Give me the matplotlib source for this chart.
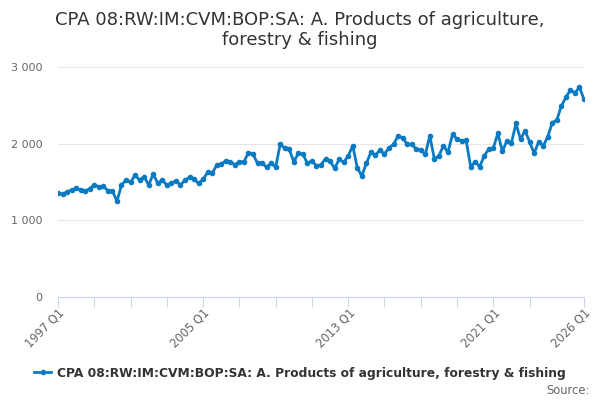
import matplotlib
matplotlib.use('Agg')
import matplotlib.pyplot as plt
from matplotlib.lines import Line2D

# quarterly values 1997 Q1 .. 2026 Q1
values = [1360, 1339, 1373, 1395, 1417, 1395, 1382, 1412, 1464, 1438,
          1447, 1386, 1386, 1248, 1460, 1525, 1495, 1590, 1525, 1568,
          1460, 1604, 1482, 1525, 1460, 1482, 1517, 1460, 1525, 1560,
          1534, 1482, 1534, 1626, 1612, 1721, 1734, 1777, 1764, 1725,
          1764, 1764, 1882, 1864, 1743, 1751, 1691, 1751, 1691, 1995,
          1939, 1925, 1764, 1873, 1864, 1743, 1777, 1710, 1725, 1805,
          1773, 1678, 1795, 1756, 1842, 1973, 1686, 1578, 1743, 1886,
          1851, 1916, 1864, 1947, 1991, 2103, 2077, 1991, 1991, 1930,
          1916, 1860, 2103, 1799, 1842, 1973, 1886, 2121, 2060, 2034,
          2047, 1699, 1764, 1699, 1842, 1930, 1942, 2134, 1900, 2038,
          2012, 2264, 2056, 2168, 2025, 1873, 2025, 1969, 2090, 2273,
          2308, 2490, 2604, 2699, 2664, 2734, 2578]
x = list(range(len(values)))

tick_pos = list(range(0, 108, 8)) + [116]
label_pos = [0, 32, 64, 96, 116]
label_text = ['1997 Q1', '2005 Q1', '2013 Q1', '2021 Q1', '2026 Q1']
ytick_vals = [0, 1000, 2000, 3000]
ytick_text = ['0', '1 000', '2 000', '3 000']

title = 'CPA 08:RW:IM:CVM:BOP:SA: A. Products of agriculture,\nforestry & fishing'
series_name = 'CPA 08:RW:IM:CVM:BOP:SA: A. Products of agriculture, forestry & fishing'
line_color = '#0a7bc2'

fig = plt.figure(figsize=(6, 4), dpi=100)
ax = fig.add_axes([58 / 600, 1 - 297 / 400, 526 / 600, 230 / 400])

ax.plot(x, values, color=line_color, linewidth=2, marker='o', markersize=3)

ax.set_xlim(0, 116)
ax.set_ylim(0, 3000)

ax.set_yticks(ytick_vals)
ax.set_yticklabels(ytick_text, fontsize=8, color='#666666')
ax.tick_params(axis='y', length=0, pad=11)
ax.grid(axis='y', color='#e6e6e6', linewidth=0.8)
ax.set_axisbelow(True)

ax.set_xticks(tick_pos)
ax.set_xticklabels(['' for _ in tick_pos])
ax.tick_params(axis='x', length=7, width=0.8, color='#ccd6eb')
for p, t in zip(label_pos, label_text):
    ax.text(p, -0.04, t, transform=ax.get_xaxis_transform(), rotation=45,
            ha='right', va='top', fontsize=8.3, color='#666666',
            rotation_mode='anchor')

for s in ['top', 'right', 'left']:
    ax.spines[s].set_visible(False)
ax.spines['bottom'].set_color('#ccd6eb')

fig.text(0.5, 1 - 30 / 400, title, ha='center', va='center', fontsize=13,
         color='#333333', linespacing=1.15)

handle = Line2D([], [], color=line_color, linewidth=2, marker='o', markersize=3)
fig.legend([handle], [series_name], loc='center', bbox_to_anchor=(0.5, 1 - 373 / 400),
           frameon=False, handlelength=1.4, handletextpad=0.5,
           prop={'size': 8.8, 'weight': 'bold'}, labelcolor='#333333')

fig.text(0.982, 1 - 390 / 400, 'Source:', ha='right', va='center',
         fontsize=8.3, color='#666666')

fig.savefig('out.png', dpi=100)
